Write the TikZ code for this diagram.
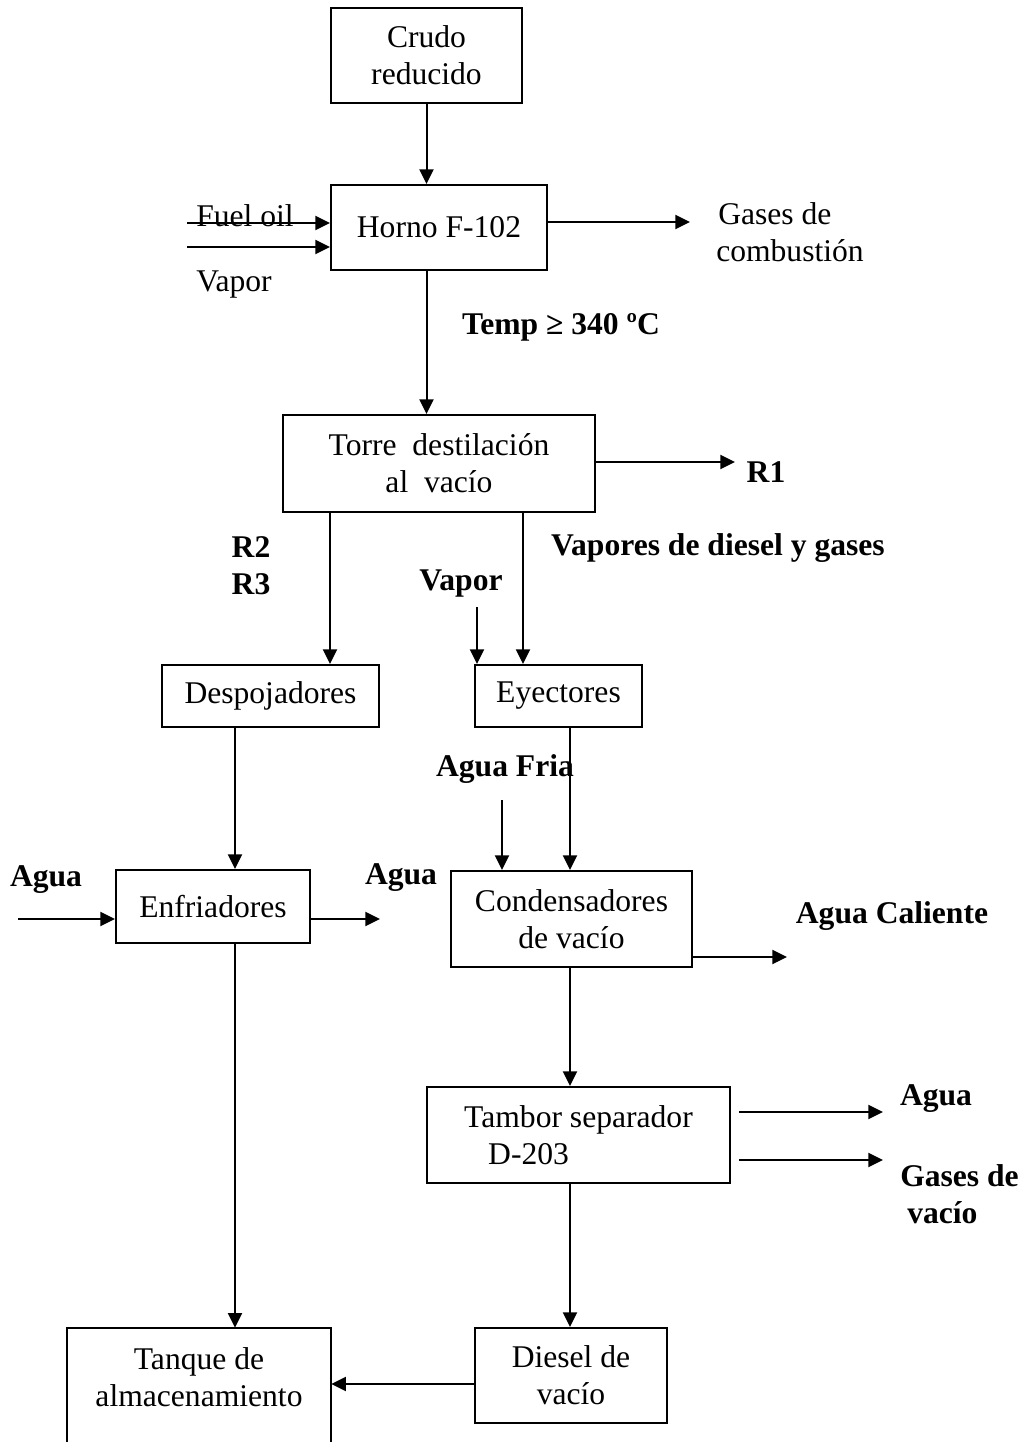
\documentclass[tikz,border=0pt]{standalone}
\usepackage{fontspec}
\setmainfont{Liberation Serif}
\usetikzlibrary{arrows.meta}
\newdimen\pxu
\pxu=0.75pt
\begin{document}
\begin{tikzpicture}[x=0.75pt,y=-0.75pt,
  font=\fontsize{23.7pt}{27.75pt}\selectfont,
  box/.style={draw,line width=1.5pt,inner sep=0pt,align=center},
  openbox/.style={inner sep=0pt,align=center},
  lbl/.style={inner sep=0pt,align=center},
  blbl/.style={inner sep=0pt,align=center,font=\fontsize{23.7pt}{27.75pt}\selectfont\bfseries},
  flow/.style={line width=1.5pt,-{Triangle[length=11pt,width=10.5pt]}},
  pipe/.style={line width=1.5pt}]
\useasboundingbox (0,0) rectangle (1025,1442);

% process units
\node[box,minimum width=191\pxu,minimum height=95\pxu] (crudo) at (426.5,55) {Crudo\\reducido};
\node[box,minimum width=216\pxu,minimum height=85\pxu] (horno) at (439,227.5) {Horno F-102};
\node[box,minimum width=312\pxu,minimum height=97\pxu] (torre) at (439,463.5) {Torre\ \ destilación\\al\ \ vacío};
\node[box,minimum width=217\pxu,minimum height=62\pxu] (despoj) at (270.5,696) {Despojadores};
\node[box,minimum width=167\pxu,minimum height=62\pxu] (eyect) at (558.5,696) {Eyectores};
\node[box,minimum width=194\pxu,minimum height=73\pxu] (enfri) at (213,906.5) {Enfriadores};
\node[box,minimum width=241\pxu,minimum height=96\pxu] (conden) at (571.5,919) {Condensadores\\de vacío};
\node[box,minimum width=303\pxu,minimum height=96\pxu,align=left] (tambor) at (578.5,1135) {Tambor separador\\\hspace*{24\pxu}D-203};
\node[box,minimum width=192\pxu,minimum height=95\pxu] (diesel) at (571,1375.5) {Diesel de\\vacío};
% storage tank: its lower edge lies beyond the page
\node[openbox,minimum width=264\pxu,minimum height=98\pxu] (tanque) at (199,1377) {Tanque de\\almacenamiento};
\draw[pipe] (tanque.north west |- 0,1450) -- (tanque.north west) -- (tanque.north east) -- (tanque.north east |- 0,1450);

% stream labels
\node[lbl,anchor=base west] (fuel) at (196,226) {Fuel oil};
\node[lbl,anchor=base west] (vapor1) at (196,291) {Vapor};
\node[lbl,align=left,anchor=west] (gcomb) at (716,232) {\hspace*{2\pxu}Gases de\\combustión};
\node[blbl] (temp) at (561,327) {Temp ≥ 340 ºC};
\node[blbl] (r1) at (766,472) {R1};
\node[blbl] (r23) at (251,566) {R2\\R3};
\node[blbl] (vdg) at (718,548) {Vapores de diesel y gases};
\node[blbl] (vapor2) at (461,584) {Vapor};
\node[blbl] (afria) at (505,769) {Agua Fria};
\node[blbl] (agua1) at (46,880) {Agua};
\node[blbl] (agua2) at (401,878) {Agua};
\node[blbl] (acal) at (892,916) {Agua Caliente};
\node[blbl] (agua3) at (936,1099) {Agua};
\node[blbl,align=left,anchor=west] (gvac) at (900,1194) {Gases de\\\hspace*{7\pxu}vacío};

% free stream ends
\coordinate (fo) at (187,223);
\coordinate (vp) at (187,247);
\coordinate (gc) at (690,222);
\coordinate (r1e) at (735,462);
\coordinate (vap2) at (477,607);
\coordinate (af) at (502,800);
\coordinate (ain) at (18,919);
\coordinate (aout) at (380,919);
\coordinate (ac) at (787,957);
\coordinate (wa) at (739,1112);
\coordinate (wb) at (883,1112);
\coordinate (ga) at (739,1160);
\coordinate (gb) at (883,1160);

% main flow
\draw[flow] (crudo.south) -- (crudo.south |- horno.north);
\draw[flow] (fo) -- (horno.west |- fo);
\draw[flow] (vp) -- (horno.west |- vp);
\draw[flow] (horno.east |- gc) -- (gc);
\draw[flow] (horno.south -| crudo.south) -- (torre.north -| crudo.south);
\draw[flow] (torre.east |- r1e) -- (r1e);
\draw[flow] (torre.south -| 330,0) -- (despoj.north -| 330,0);
\draw[flow] (torre.south -| 523,0) -- (eyect.north -| 523,0);
\draw[flow] (vap2) -- (eyect.north -| vap2);
\draw[flow] (despoj.south -| 235,0) -- (enfri.north -| 235,0);
\draw[flow] (eyect.south -| 570,0) -- (conden.north -| 570,0);
\draw[flow] (af) -- (conden.north -| af);
\draw[flow] (ain) -- (enfri.west |- ain);
\draw[flow] (enfri.east |- aout) -- (aout);
\draw[flow] (conden.east |- ac) -- (ac);
\draw[flow] (enfri.south -| 235,0) -- (tanque.north -| 235,0);
\draw[flow] (conden.south -| 570,0) -- (tambor.north -| 570,0);
\draw[flow] (wa) -- (wb);
\draw[flow] (ga) -- (gb);
\draw[flow] (tambor.south -| 570,0) -- (diesel.north -| 570,0);
\draw[flow] (diesel.west |- 0,1384) -- (tanque.east |- 0,1384);
\end{tikzpicture}
\end{document}
